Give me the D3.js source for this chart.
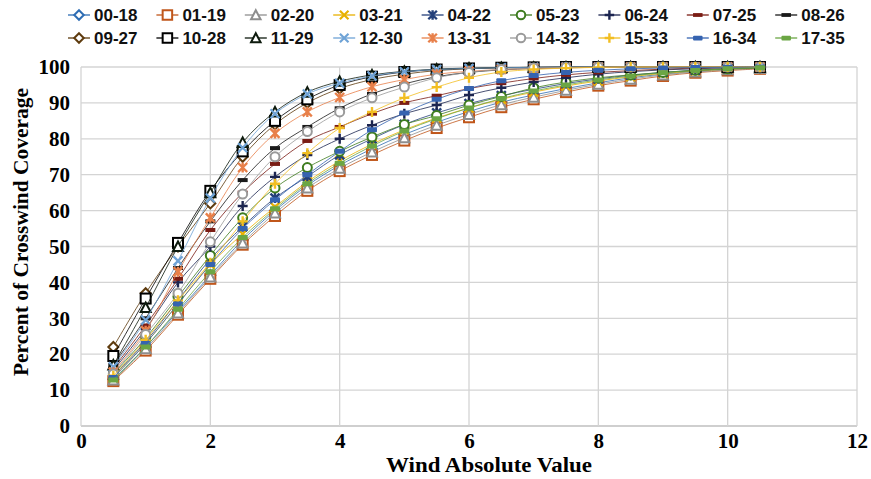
<!DOCTYPE html>
<html><head><meta charset="utf-8">
<script src="https://cdn.jsdelivr.net/npm/d3@7/dist/d3.min.js"></script>
<style>body{margin:0;background:#fff}svg{display:block}</style>
</head><body>
<svg id="c" width="871" height="479"></svg>
<script>
const windX = [0.5,1,1.5,2,2.5,3,3.5,4,4.5,5,5.5,6,6.5,7,7.5,8,8.5,9,9.5,10,10.5];
const seriesNames = ["00-18","01-19","02-20","03-21","04-22","05-23","06-24","07-25","08-26",
                     "09-27","10-28","11-29","12-30","13-31","14-32","15-33","16-34","17-35"];
const xTicks = [0,2,4,6,8,10,12];
const yTicks = [0,10,20,30,40,50,60,70,80,90,100];

const s0018 = [13,22,32,42,51.8,60,67,72.6,77.2,81.2,84.6,87.6,90.2,92.2,94,95.6,97,98,98.8,99.3,99.7];
const s0119 = [12.5,21,31,41,50.5,58.5,65.5,71,75.5,79.5,83,86,88.8,91,93,94.8,96.2,97.5,98.4,99,99.5];
const s0220 = [12.8,21.5,31.5,41.5,51,59.3,66.3,71.8,76.3,80.3,83.8,86.8,89.5,91.6,93.5,95.2,96.6,97.8,98.6,99.2,99.6];
const s0321 = [13.5,23,34,45,53.5,61,68,73.8,78.5,82.5,85.8,88.6,91,93,94.7,96.1,97.3,98.2,98.9,99.4,99.7];
const s0422 = [14,23.5,35,46.5,55.5,63.5,69.5,75.5,80,84,87.2,89.8,92,93.8,95.4,96.7,97.7,98.5,99.1,99.5,99.8];
const s0523 = [14.5,24.5,36,47.5,58,66.3,72,76.5,80.5,84,86.5,89.4,91.8,94.2,95.8,97,97.8,98.5,99.1,99.5,99.8];
const s0624 = [15.5,27,40,50,61.3,69.4,75.5,80,83.8,87,89.4,92.2,94.2,95.8,97,98,98.7,99.2,99.5,99.8,99.9];
const s0725 = [16,28,41,54.6,65,73,79.4,83.3,87,90,92,94,95.5,96.8,97.8,98.5,99,99.4,99.7,99.85,99.95];
const s0826 = [17,30,44,57,68.5,77.4,83.3,88.5,92.5,95.3,97.3,98.5,99.2,99.6,99.8,99.9,100,100,100,100,100];
const s0927 = [22,37,50,62,75,84,90,94,96.5,98,99,99.5,99.8,99.9,100,100,100,100,100,100,100];
const s1028 = [19.5,35.5,51,65.5,76.5,85,91,95,97.3,98.6,99.3,99.6,99.8,99.9,100,100,100,100,100,100,100];
const s1129 = [17,33,50,65,79,87.5,93,96,97.8,98.8,99.4,99.7,99.85,99.9,99.95,100,100,100,100,100,100];
const s1230 = [16.5,29.5,46,63.5,77.5,87,92.5,95.5,97.5,98.7,99.3,99.6,99.8,99.9,100,100,100,100,100,100,100];
const s1331 = [15,26.5,43,58,72,81.5,87.5,91.5,94.5,96.5,98,98.8,99.3,99.6,99.8,99.9,100,100,100,100,100];
const s1432 = [14.5,25.5,37,51.3,64.6,75,82,87.5,91.4,94.4,97,98.5,99.3,99.7,99.9,100,100,100,100,100,100];
const s1533 = [14,24,35,45.5,57,67.5,76,83,87.5,91.4,94.4,97,98.6,99.3,99.7,99.9,100,100,100,100,100];
const s1634 = [13.5,23,34,45,55,63,70,76.5,82.5,87.2,91,94,96.2,97.6,98.5,99.1,99.5,99.7,99.85,99.9,100];
const s1735 = [12.8,22,32.5,43,52.5,60.5,67.5,73.2,78,82.2,85.6,88.6,91.2,93.3,95,96.4,97.5,98.4,99,99.5,99.8];

const seriesValues = [s0018,s0119,s0220,s0321,s0422,s0523,s0624,s0725,s0826,
                      s0927,s1028,s1129,s1230,s1331,s1432,s1533,s1634,s1735];

// styles (kept separate from data)
const styles = [
  {c:"#2E6DB4", m:"diamond"},
  {c:"#C0561A", m:"square"},
  {c:"#8E8E8E", m:"triangle"},
  {c:"#E8B100", m:"x"},
  {c:"#24407A", m:"star"},
  {c:"#3E7C1F", m:"circle"},
  {c:"#1C2550", m:"plus"},
  {c:"#7A1C14", m:"dash"},
  {c:"#1a1a1a", m:"dash"},
  {c:"#5E3B0E", m:"diamond"},
  {c:"#000000", m:"square"},
  {c:"#0d1a0d", m:"triangle"},
  {c:"#6FA3D6", m:"x"},
  {c:"#E8804A", m:"star"},
  {c:"#9A9A9A", m:"circle"},
  {c:"#F2BE22", m:"plus"},
  {c:"#3563B0", m:"bar"},
  {c:"#6BA644", m:"bar"}
];

const svg = d3.select("#c");
const x = d3.scaleLinear().domain([0,12]).range([81,857]);
const y = d3.scaleLinear().domain([0,100]).range([426,67]);

// gridlines
const grid = svg.append("g");
grid.selectAll("line.h").data(yTicks).join("line")
  .attr("x1",x(0)).attr("x2",x(12)).attr("y1",d=>y(d)).attr("y2",d=>y(d))
  .attr("stroke",d=>d===0?"#BFBFBF":"#D4D4D4").attr("stroke-width",1.3);
grid.selectAll("line.v").data(xTicks).join("line")
  .attr("y1",y(0)).attr("y2",y(100)).attr("x1",d=>x(d)).attr("x2",d=>x(d))
  .attr("stroke","#D4D4D4").attr("stroke-width",1.3);

// axes tick labels
const serif = "'Liberation Serif','Times New Roman',serif";
const xAxis = d3.axisBottom(x).tickValues(xTicks).tickSize(0).tickPadding(7);
const gx = svg.append("g").attr("transform",`translate(0,${y(0)})`).call(xAxis);
gx.select(".domain").remove();
gx.selectAll("text").attr("font-family",serif).attr("font-weight","bold").attr("font-size",21).attr("fill","#000");
const yAxis = d3.axisLeft(y).tickValues(yTicks).tickSize(0).tickPadding(11);
const gy = svg.append("g").attr("transform",`translate(${x(0)},0)`).call(yAxis);
gy.select(".domain").remove();
gy.selectAll("text").attr("font-family",serif).attr("font-weight","bold").attr("font-size",21).attr("fill","#000");

svg.append("text").attr("x",489).attr("y",472).attr("text-anchor","middle")
  .attr("font-family",serif).attr("font-weight","bold").attr("font-size",22)
  .attr("textLength",206).attr("lengthAdjust","spacingAndGlyphs").text("Wind Absolute Value");
svg.append("text").attr("transform",`translate(28,232) rotate(-90)`).attr("text-anchor","middle")
  .attr("font-family",serif).attr("font-weight","bold").attr("font-size",21)
  .attr("textLength",288).attr("lengthAdjust","spacingAndGlyphs").text("Percent of Crosswind Coverage");

// marker drawing
function marker(g, type, color, s){
  s = s || 1;
  const sw = 2;
  if(type==="diamond"){
    g.append("path").attr("d",`M0,${-5*s}L${5*s},0L0,${5*s}L${-5*s},0Z`).attr("fill","#fff").attr("stroke",color).attr("stroke-width",sw);
  } else if(type==="square"){
    g.append("rect").attr("x",-5*s).attr("y",-5*s).attr("width",10*s).attr("height",10*s).attr("fill","#fff").attr("stroke",color).attr("stroke-width",sw);
  } else if(type==="triangle"){
    g.append("path").attr("d",`M0,${-5*s}L${5*s},${4.5*s}L${-5*s},${4.5*s}Z`).attr("fill","#fff").attr("stroke",color).attr("stroke-width",sw);
  } else if(type==="circle"){
    g.append("circle").attr("r",4.5*s).attr("fill","#fff").attr("stroke",color).attr("stroke-width",sw);
  } else if(type==="x"){
    g.append("path").attr("d",`M${-4.5*s},${-4.5*s}L${4.5*s},${4.5*s}M${4.5*s},${-4.5*s}L${-4.5*s},${4.5*s}`).attr("stroke",color).attr("stroke-width",2.2);
  } else if(type==="star"){
    g.append("path").attr("d",`M${-4.5*s},${-4.5*s}L${4.5*s},${4.5*s}M${4.5*s},${-4.5*s}L${-4.5*s},${4.5*s}M0,${-5*s}L0,${5*s}`).attr("stroke",color).attr("stroke-width",2.4);
  } else if(type==="plus"){
    g.append("path").attr("d",`M${-5*s},0L${5*s},0M0,${-5*s}L0,${5*s}`).attr("stroke",color).attr("stroke-width",2.4);
  } else if(type==="dash"){
    g.append("rect").attr("x",-5*s).attr("y",-2*s).attr("width",10*s).attr("height",4*s).attr("fill",color);
  } else if(type==="bar"){
    g.append("rect").attr("x",-5*s).attr("y",-2.5*s).attr("width",10*s).attr("height",5*s).attr("rx",1).attr("fill",color);
  }
}

const line = d3.line().x((d,i)=>x(windX[i])).y(d=>y(d)).curve(d3.curveCatmullRom.alpha(0.5));

const plot = svg.append("g");
seriesValues.forEach((vals,k)=>{
  const st = styles[k];
  const g = plot.append("g");
  g.append("path").attr("d",line(vals)).attr("fill","none").attr("stroke",st.c).attr("stroke-width",1).attr("stroke-opacity",0.8);
  vals.forEach((v,i)=>{
    const mg = g.append("g").attr("transform",`translate(${x(windX[i])},${y(v)})`);
    marker(mg, st.m, st.c, 1);
  });
});

// legend
const leg = svg.append("g");
seriesNames.forEach((name,k)=>{
  const row = Math.floor(k/9), col = k%9;
  const x0 = 68 + 88.4*col, yc = 15 + 23*row;
  const st = styles[k];
  const g = leg.append("g");
  g.append("line").attr("x1",x0).attr("x2",x0+22).attr("y1",yc).attr("y2",yc).attr("stroke",st.c).attr("stroke-width",1.3);
  const mg = g.append("g").attr("transform",`translate(${x0+11},${yc})`);
  marker(mg, st.m, st.c, 0.95);
  g.append("text").attr("x",x0+26).attr("y",yc+6).attr("font-family","'Liberation Sans',Arial,sans-serif")
    .attr("font-weight","bold").attr("font-size",17).attr("fill","#111").text(name);
});
</script>
</body></html>
